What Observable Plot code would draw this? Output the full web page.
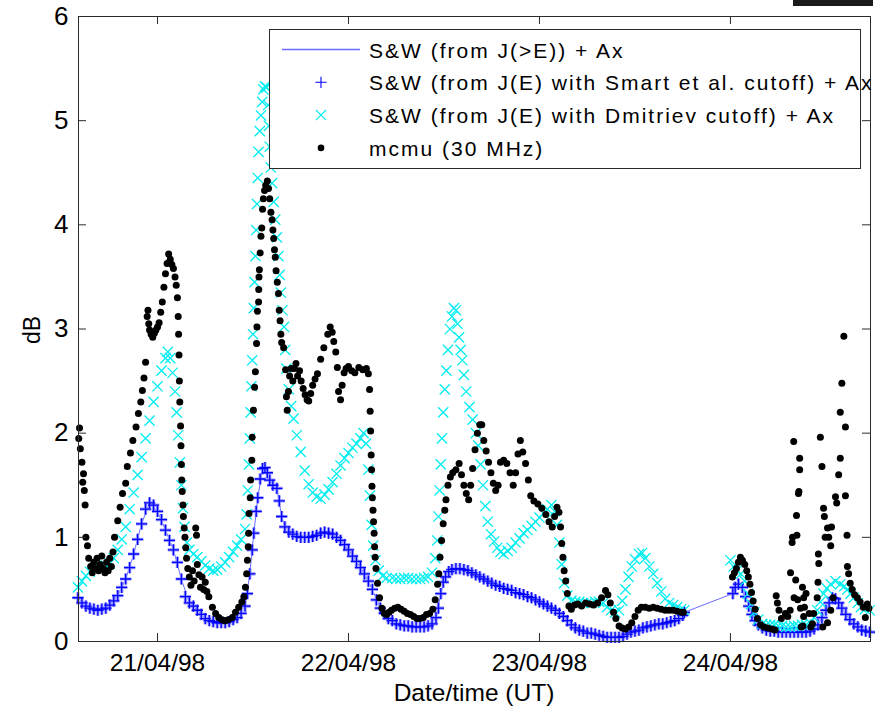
<!DOCTYPE html>
<html>
<head>
<meta charset="utf-8">
<script src="https://cdn.jsdelivr.net/npm/d3@7"></script>
<script src="https://cdn.jsdelivr.net/npm/@observablehq/plot@0.6"></script>
<style>
  html, body { margin: 0; padding: 0; background: #fff; overflow: hidden; }
  #chart { position: relative; width: 875px; height: 706px; }
  #chart svg { display: block; }
</style>
</head>
<body>
<div id="chart"></div>
<script>
// All series: [hours since 20/04/98 00:00 UT, absorption in dB]

// S&W (from J(>E)) + Ax — continuous line
const swLine = [
  [14,0.42],[15,0.34],[16,0.31],[17,0.31],[18,0.35],[19,0.44],[20,0.60],[21,0.84],[22,1.13],[23,1.33],
  [24,1.25],[25,1.07],[26,0.88],[27,0.60],[28,0.37],[29,0.30],[30,0.22],[31,0.19],[32,0.18],[33,0.19],
  [34,0.23],[35,0.34],[35.6,0.65],[36.1,1.04],[36.6,1.38],[37.2,1.66],[37.5,1.67],[38.1,1.55],[39,1.47],
  [39.6,1.20],[40,1.10],[41,1.03],[42,1.00],[43,1.00],[44,1.02],[45,1.05],[46,1.03],[47,0.97],[48,0.88],
  [49,0.77],[50,0.65],[51,0.50],[52,0.32],[53,0.22],[54,0.17],[55,0.15],[56,0.14],[57,0.14],[58,0.15],
  [59,0.23],[59.6,0.46],[60.2,0.62],[61,0.69],[62,0.70],[63,0.68],[64,0.64],[65,0.60],[66,0.56],[67,0.53],
  [68,0.50],[69,0.47],[70,0.45],[71,0.42],[72,0.38],[73,0.34],[74,0.30],[75,0.24],[76,0.16],[77,0.11],
  [78,0.08],[79,0.07],[80,0.05],[81,0.04],[82,0.04],[83,0.07],[84,0.10],[85,0.13],[86,0.15],[87,0.17],
  [88,0.18],[89,0.20],[90.2,0.28],[96.3,0.46],[97,0.55],[98,0.40],[99,0.21],[100,0.13],[101,0.10],
  [102,0.09],[104,0.09],[106,0.10],[107,0.16],[108,0.30],[108.8,0.42],[109.6,0.37],[110.5,0.26],
  [111.5,0.17],[112.5,0.11],[113.5,0.09]
];

// S&W (from J(E) with Smart et al. cutoff) + Ax
const swSmart = [
  [14.0,0.42],[14.5,0.37],[15.0,0.34],[15.5,0.32],[16.0,0.31],[16.5,0.30],[17.0,0.31],[17.5,0.32],
  [18.0,0.35],[18.5,0.39],[19.0,0.44],[19.5,0.52],[20.0,0.60],[20.5,0.71],[21.0,0.84],[21.5,0.98],
  [22.0,1.13],[22.5,1.27],[23.0,1.33],[23.5,1.31],[24.0,1.25],[24.5,1.17],[25.0,1.07],[25.5,0.97],
  [26.0,0.88],[26.5,0.76],[27.0,0.60],[27.5,0.43],[28.0,0.37],[28.5,0.34],[29.0,0.30],[29.5,0.26],
  [30.0,0.22],[30.5,0.20],[31.0,0.19],[31.5,0.18],[32.0,0.18],[32.5,0.18],[33.0,0.19],[33.5,0.21],
  [34.0,0.23],[34.5,0.27],[35.0,0.34],[35.3,0.46],[35.6,0.65],[35.9,0.88],[36.1,1.04],[36.4,1.25],
  [36.6,1.38],[36.9,1.56],[37.2,1.66],[37.5,1.67],[37.8,1.62],[38.1,1.55],[38.5,1.50],[39.0,1.47],
  [39.3,1.35],[39.6,1.20],[40.0,1.10],[40.5,1.05],[41.0,1.03],[41.5,1.01],[42.0,1.00],[42.5,1.00],
  [43.0,1.00],[43.5,1.01],[44.0,1.02],[44.5,1.04],[45.0,1.05],[45.5,1.04],[46.0,1.03],[46.5,1.00],
  [47.0,0.97],[47.5,0.93],[48.0,0.88],[48.5,0.82],[49.0,0.77],[49.5,0.71],[50.0,0.65],[50.5,0.58],
  [51.0,0.50],[51.5,0.40],[52.0,0.32],[52.5,0.27],[53.0,0.22],[53.5,0.20],[54.0,0.17],[54.5,0.16],
  [55.0,0.15],[55.5,0.15],[56.0,0.14],[56.5,0.14],[57.0,0.14],[57.5,0.14],[58.0,0.15],[58.5,0.17],
  [59.0,0.23],[59.3,0.32],[59.6,0.46],[59.9,0.57],[60.2,0.62],[60.6,0.67],[61.0,0.69],[61.5,0.70],
  [62.0,0.70],[62.5,0.69],[63.0,0.68],[63.5,0.66],[64.0,0.64],[64.5,0.62],[65.0,0.60],[65.5,0.58],
  [66.0,0.56],[66.5,0.54],[67.0,0.53],[67.5,0.51],[68.0,0.50],[68.5,0.49],[69.0,0.47],[69.5,0.46],
  [70.0,0.45],[70.5,0.43],[71.0,0.42],[71.5,0.40],[72.0,0.38],[72.5,0.36],[73.0,0.34],[73.5,0.32],
  [74.0,0.30],[74.5,0.27],[75.0,0.24],[75.5,0.20],[76.0,0.16],[76.5,0.13],[77.0,0.11],[77.5,0.10],
  [78.0,0.08],[78.5,0.08],[79.0,0.07],[79.5,0.06],[80.0,0.05],[80.5,0.04],[81.0,0.04],[81.5,0.04],
  [82.0,0.04],[82.5,0.05],[83.0,0.07],[83.5,0.09],[84.0,0.10],[84.5,0.11],[85.0,0.13],[85.5,0.14],
  [86.0,0.15],[86.5,0.16],[87.0,0.17],[87.5,0.17],[88.0,0.18],[88.5,0.19],[89.0,0.20],[89.5,0.22],
  [90.0,0.25],[90.2,0.28],
  [96.3,0.46],[96.6,0.52],[97.0,0.55],[97.5,0.52],[97.9,0.43],[98.3,0.34],[98.7,0.26],[99.1,0.20],
  [99.5,0.16],[100.0,0.13],[100.5,0.11],[101.0,0.10],[101.5,0.10],[102.0,0.09],[102.5,0.09],[103.0,0.09],
  [103.5,0.09],[104.0,0.09],[104.5,0.09],[105.0,0.09],[105.5,0.09],[106.0,0.10],[106.5,0.12],[107.0,0.16],
  [107.5,0.23],[108.0,0.30],[108.4,0.37],[108.8,0.42],[109.2,0.41],[109.6,0.37],[110.0,0.32],[110.5,0.26],
  [111.0,0.21],[111.5,0.17],[112.0,0.14],[112.5,0.11],[113.0,0.10],[113.5,0.09]
];

// S&W (from J(E) with Dmitriev cutoff) + Ax
const swDmitriev = [
  [14.0,0.52],[14.5,0.58],[15.0,0.63],[15.5,0.67],[16.0,0.70],[16.5,0.71],[17.0,0.72],[17.5,0.73],
  [18.0,0.75],[18.5,0.80],[19.0,0.88],[19.5,0.98],[20.0,1.10],[20.5,1.27],[21.0,1.43],[21.5,1.60],
  [22.0,1.77],[22.5,1.95],[23.0,2.12],[23.5,2.30],[24.0,2.45],[24.5,2.60],[25.0,2.72],[25.3,2.78],
  [25.6,2.72],[25.9,2.58],[26.2,2.40],[26.4,2.20],[26.6,1.98],[26.8,1.72],[27.0,1.50],[27.2,1.28],
  [27.4,1.10],[27.7,0.95],[28.0,0.88],[28.5,0.84],[29.0,0.81],[29.5,0.77],[30.0,0.73],[30.5,0.70],
  [31.0,0.68],[31.5,0.69],[32.0,0.72],[32.5,0.76],[33.0,0.81],[33.5,0.86],[34.0,0.92],[34.5,0.98],
  [35.0,1.08],[35.2,1.22],[35.35,1.45],[35.5,1.70],[35.6,1.95],[35.7,2.20],[35.8,2.45],[35.9,2.70],
  [36.0,2.95],[36.1,3.20],[36.2,3.45],[36.3,3.70],[36.4,3.95],[36.5,4.20],[36.6,4.45],[36.7,4.70],
  [36.85,4.90],[37.0,5.05],[37.15,5.18],[37.3,5.30],[37.5,5.33],[37.7,5.32],[37.9,5.15],[38.0,4.95],
  [38.1,4.75],[38.25,4.55],[38.4,4.40],[38.6,4.22],[38.8,4.05],[39.0,3.88],[39.2,3.70],[39.35,3.52],
  [39.5,3.35],[39.7,3.18],[39.9,3.02],[40.05,2.80],[40.2,2.62],[40.5,2.42],[40.8,2.26],[41.1,2.14],
  [41.5,1.98],[42.0,1.82],[42.5,1.64],[43.0,1.51],[43.5,1.43],[44.0,1.39],[44.5,1.37],[45.0,1.41],
  [45.5,1.46],[46.0,1.53],[46.5,1.61],[47.0,1.69],[47.5,1.76],[48.0,1.81],[48.5,1.86],[49.0,1.90],
  [49.5,1.95],[49.9,2.00],[50.2,1.90],[50.5,1.65],[50.7,1.40],[50.9,1.12],[51.1,0.92],[51.4,0.78],
  [51.8,0.68],[52.3,0.63],[52.8,0.61],[53.5,0.61],[54.0,0.60],[54.5,0.60],[55.0,0.61],[55.5,0.61],
  [56.0,0.60],[56.5,0.60],[57.0,0.60],[57.5,0.61],[58.0,0.62],[58.5,0.66],[58.9,0.80],[59.15,0.97],
  [59.3,1.20],[59.45,1.45],[59.6,1.70],[59.75,1.95],[59.9,2.20],[60.1,2.42],[60.3,2.60],[60.5,2.80],
  [60.75,3.00],[61.0,3.12],[61.25,3.20],[61.5,3.18],[61.7,3.05],[61.9,2.92],[62.1,2.80],[62.3,2.70],
  [62.5,2.56],[62.8,2.40],[63.2,2.25],[63.6,2.13],[64.0,2.00],[64.3,1.88],[64.6,1.70],[64.9,1.50],
  [65.2,1.30],[65.5,1.15],[65.9,1.03],[66.3,0.96],[66.7,0.90],[67.1,0.86],[67.5,0.84],[68.0,0.87],
  [68.5,0.90],[69.0,0.95],[69.5,0.99],[70.0,1.04],[70.5,1.07],[71.0,1.11],[71.5,1.15],[72.0,1.19],
  [72.5,1.23],[73.0,1.27],[73.5,1.31],[73.9,1.25],[74.2,1.12],[74.5,0.95],[74.8,0.74],[75.1,0.56],
  [75.5,0.44],[76.0,0.39],[76.5,0.38],[77.0,0.38],[77.5,0.37],[78.0,0.37],[78.5,0.37],[79.0,0.38],
  [79.5,0.38],[80.0,0.37],[80.5,0.33],[81.0,0.30],[81.5,0.28],[82.0,0.30],[82.4,0.39],[82.8,0.50],
  [83.2,0.62],[83.6,0.72],[84.0,0.79],[84.5,0.84],[84.9,0.85],[85.3,0.80],[85.8,0.72],[86.3,0.65],
  [86.8,0.56],[87.3,0.48],[87.8,0.41],[88.3,0.37],[88.8,0.35],[89.3,0.33],[89.8,0.31],[90.2,0.30],
  [96.0,0.78],[96.4,0.72],[96.8,0.68],[97.3,0.65],[97.8,0.58],[98.2,0.46],[98.6,0.36],[99.0,0.28],
  [99.5,0.21],[100.0,0.17],[100.5,0.16],[101.0,0.16],[101.5,0.16],[102.0,0.15],[102.5,0.15],[103.0,0.14],
  [103.5,0.14],[104.0,0.15],[104.5,0.15],[105.0,0.16],[105.5,0.16],[106.0,0.18],[106.5,0.23],[106.9,0.30],
  [107.3,0.38],[107.7,0.46],[108.1,0.51],[108.6,0.55],[109.2,0.58],[109.8,0.55],[110.3,0.53],[110.7,0.50],
  [111.1,0.46],[111.5,0.42],[112.0,0.37],[112.4,0.33],[112.9,0.31],[113.5,0.30]
];

// mcmu riometer (30 MHz)
const mcmu = [
  [14.1,1.95],[14.2,2.05],[14.3,1.85],[14.5,1.72],[14.7,1.61],[14.6,1.53],[14.8,1.45],[14.9,1.31],
  [15.0,1.00],[15.2,0.92],[15.35,0.80],[15.6,0.72],[15.8,0.66],[16.0,0.76],[16.2,0.70],[16.4,0.80],
  [16.6,0.68],[16.8,0.74],[17.0,0.82],[17.2,0.70],[17.4,0.66],[17.6,0.76],[17.8,0.68],[18.0,0.80],
  [18.2,0.72],[18.4,0.86],[18.6,1.00],[19.0,1.16],[19.3,1.29],[19.6,1.42],[20.0,1.52],[20.2,1.68],
  [20.6,1.81],[20.9,1.93],[21.3,2.06],[21.6,2.19],[21.9,2.30],[22.1,2.41],[22.3,2.53],[22.5,2.68],
  [22.7,3.12],[22.8,3.18],[22.9,3.05],[23.0,2.99],[23.2,2.95],[23.4,2.92],[23.6,2.96],[23.8,2.99],
  [24.0,3.02],[24.2,3.06],[24.4,3.16],[24.6,3.26],[24.8,3.40],[25.0,3.53],[25.2,3.63],[25.4,3.72],
  [25.6,3.67],[25.8,3.62],[26.0,3.58],[26.2,3.50],[26.35,3.42],[26.5,3.30],[26.6,3.12],[26.65,2.95],
  [26.7,2.75],[26.75,2.50],[26.8,2.30],[26.9,2.07],[26.95,1.88],[27.0,1.70],[27.05,1.55],[27.1,1.44],
  [27.2,1.31],[27.25,1.20],[27.35,1.09],[27.45,1.00],[27.55,0.90],[27.65,0.80],[27.8,0.70],[28.0,0.62],
  [28.2,0.54],[28.4,0.68],[28.6,0.58],[28.8,1.09],[28.9,1.02],[29.0,0.74],[29.2,0.64],[29.4,0.52],
  [29.6,0.62],[29.8,0.50],[30.0,0.57],[30.2,0.48],[30.45,0.43],[30.9,0.33],[31.3,0.27],[31.7,0.23],
  [32.1,0.21],[32.5,0.20],[32.9,0.21],[33.4,0.23],[33.8,0.28],[34.2,0.33],[34.6,0.38],[34.85,0.43],
  [35.05,0.52],[35.2,0.65],[35.3,0.78],[35.4,0.91],[35.45,1.04],[35.5,1.23],[35.65,1.38],[35.7,1.55],
  [35.85,1.74],[35.9,1.96],[36.05,2.22],[36.2,2.44],[36.3,2.59],[36.45,2.86],[36.5,3.02],[36.55,3.17],
  [36.7,3.26],[36.72,3.38],[36.75,3.50],[36.8,3.57],[36.9,3.73],[37.0,3.89],[37.1,3.97],[37.2,4.15],
  [37.3,4.25],[37.45,4.33],[37.6,4.38],[37.8,4.42],[37.95,4.35],[38.1,4.25],[38.25,4.12],[38.4,4.05],
  [38.5,3.95],[38.6,3.87],[38.7,3.76],[38.8,3.69],[38.9,3.56],[39.05,3.45],[39.2,3.34],[39.3,3.18],
  [39.4,3.08],[39.5,2.95],[39.6,2.87],[39.85,2.82],[40.1,2.61],[40.2,2.35],[40.3,2.22],[40.45,2.40],
  [40.6,2.55],[40.8,2.62],[41.0,2.50],[41.2,2.62],[41.4,2.67],[41.6,2.55],[41.85,2.60],[42.05,2.50],
  [42.3,2.43],[42.55,2.37],[42.8,2.32],[43.0,2.31],[43.25,2.38],[43.5,2.46],[43.8,2.52],[44.1,2.57],
  [44.5,2.71],[44.9,2.82],[45.4,2.95],[45.7,3.02],[45.95,2.97],[46.15,2.88],[46.4,2.78],[46.6,2.63],
  [46.75,2.40],[47.0,2.32],[47.2,2.46],[47.45,2.58],[47.7,2.62],[48.0,2.64],[48.4,2.60],[48.8,2.58],
  [49.3,2.63],[49.8,2.61],[50.25,2.62],[50.5,2.57],[50.65,2.42],[50.72,2.21],[50.78,2.02],[50.85,1.79],
  [50.9,1.65],[50.95,1.49],[51.0,1.38],[51.08,1.26],[51.15,1.15],[51.22,1.04],[51.28,0.91],[51.35,0.81],
  [51.45,0.70],[51.65,0.56],[51.9,0.42],[52.2,0.32],[52.5,0.27],[52.8,0.26],[53.1,0.28],[53.4,0.30],
  [53.8,0.32],[54.2,0.33],[54.6,0.31],[55.0,0.29],[55.4,0.27],[55.8,0.26],[56.2,0.24],[56.6,0.22],
  [57.0,0.22],[57.4,0.23],[57.8,0.26],[58.2,0.27],[58.6,0.31],[58.9,0.40],[59.2,0.55],[59.35,0.65],
  [59.5,0.81],[59.7,0.97],[59.9,1.13],[60.1,1.26],[60.25,1.36],[60.5,1.50],[60.8,1.58],[61.1,1.62],
  [61.5,1.65],[61.9,1.71],[62.2,1.60],[62.5,1.50],[62.8,1.42],[63.1,1.36],[63.35,1.50],[63.6,1.66],
  [63.9,1.84],[64.2,2.00],[64.5,2.08],[64.75,2.08],[65.0,1.93],[65.3,1.83],[65.6,1.72],[65.9,1.62],
  [66.2,1.52],[66.5,1.45],[66.8,1.50],[67.1,1.72],[67.5,1.74],[67.9,1.71],[68.3,1.62],[68.7,1.50],
  [69.0,1.62],[69.3,1.80],[69.6,1.93],[69.9,1.82],[70.25,1.71],[70.6,1.55],[70.9,1.40],[71.3,1.35],
  [71.8,1.32],[72.3,1.28],[72.8,1.22],[73.2,1.15],[73.6,1.10],[73.9,1.20],[74.2,1.29],[74.45,1.24],
  [74.65,1.10],[74.8,0.94],[74.95,0.81],[75.1,0.68],[75.3,0.58],[75.5,0.46],[75.7,0.34],[76.0,0.31],
  [76.4,0.35],[76.8,0.36],[77.3,0.34],[77.8,0.37],[78.3,0.36],[78.8,0.35],[79.3,0.37],[79.8,0.42],
  [80.3,0.49],[80.6,0.45],[80.9,0.37],[81.3,0.28],[81.6,0.22],[82.0,0.15],[82.4,0.13],[82.8,0.12],
  [83.2,0.14],[83.6,0.18],[84.0,0.24],[84.4,0.30],[84.8,0.33],[85.3,0.33],[85.8,0.32],[86.3,0.33],
  [86.8,0.32],[87.3,0.31],[87.8,0.30],[88.3,0.30],[88.8,0.30],[89.3,0.29],[89.8,0.28],[90.1,0.28],
  [96.25,0.62],[96.5,0.66],[96.75,0.70],[97.0,0.76],[97.25,0.81],[97.5,0.78],[97.8,0.74],[98.05,0.68],
  [98.25,0.62],[98.45,0.55],[98.65,0.47],[98.85,0.39],[99.1,0.31],[99.4,0.22],[99.8,0.16],[100.2,0.14],
  [100.7,0.13],[101.2,0.12],[101.6,0.11],[101.75,0.44],[101.9,0.37],[102.1,0.30],[102.4,0.22],[102.9,0.27],
  [103.2,0.24],[103.5,0.30],[103.55,0.66],[103.75,0.95],[103.8,1.00],[103.95,1.92],[104.0,0.42],[104.2,0.59],
  [104.3,1.21],[104.35,1.02],[104.45,0.40],[104.55,1.42],[104.6,1.44],[104.7,1.76],[104.7,1.65],[104.8,0.32],
  [104.9,0.14],[105.05,0.52],[105.2,0.42],[105.3,0.33],[105.2,0.24],[105.1,0.15],[105.5,0.46],[105.9,0.27],
  [106.1,0.14],[106.3,0.17],[106.45,0.27],[106.9,0.42],[107.0,0.57],[107.05,0.84],[107.1,0.75],[107.3,1.96],
  [107.5,1.68],[107.7,1.28],[107.8,1.20],[107.9,1.00],[108.2,1.09],[108.35,1.00],[108.6,0.92],[108.7,1.10],
  [108.9,0.42],[108.6,0.30],[108.2,0.18],[107.6,0.14],[109.2,1.39],[109.35,1.33],[109.6,1.60],[109.8,1.76],
  [109.8,2.20],[110.0,2.48],[110.25,2.93],[110.45,2.06],[110.45,1.40],[110.65,1.02],[110.7,0.72],[110.85,0.65],
  [111.05,0.56],[111.3,0.50],[111.6,0.45],[111.95,0.42],[112.3,0.38],[112.7,0.33],[112.95,0.23],[113.2,0.36],
  [113.4,0.32]
];

const tickDays = [21, 22, 23, 24];       // April 1998, labelled at 00:00 UT
const yTicks = [0, 1, 2, 3, 4, 5, 6];
const legendLabels = [
  "S&W (from J(>E)) + Ax",
  "S&W (from J(E) with Smart et al. cutoff) + Ax",
  "S&W (from J(E) with Dmitriev cutoff) + Ax",
  "mcmu (30 MHz)"
];

const BLUE_LINE = "#6b6bff", BLUE = "#0000ff", BLUE_HALO = "#9c9cff", CYAN = "#00eef0", BLACK = "#000";
const FONT = "'Liberation Sans', Arial, Helvetica, sans-serif";

const t0 = Date.UTC(1998, 3, 20);
const toDate = h => new Date(t0 + h * 3600e3);
const rows = arr => arr.map(([h, v]) => ({time: toDate(h), dB: v}));

const W = 875, H = 706;
const mL = 78, mR = 5, mT = 16, mB = 65;
const frameW = W - mL - mR, frameH = H - mT - mB;
const tick = 8;
const tickDates = tickDays.map(d => new Date(Date.UTC(1998, 3, d)));
const axisColor = "#2b2b2b";

const rPlus = 3.7, rTimes = 4.7, rDot = 3.5;
const smartRows = rows(swSmart);

const chart = Plot.plot({
  width: W,
  height: H,
  marginLeft: mL, marginRight: mR, marginTop: mT, marginBottom: mB,
  style: {fontFamily: FONT, fontSize: "24px", color: "#000", background: "#fff", overflow: "visible"},
  x: {
    type: "utc",
    domain: [toDate(14.07), toDate(113.6)],
    ticks: tickDates,
    tickFormat: d3.utcFormat("%d/%m/%y"),
    tickSize: 0,
    tickPadding: 12,
    label: null
  },
  y: {domain: [0, 6], ticks: yTicks, tickFormat: d3.format("d"), tickSize: 0, tickPadding: 10, label: null},
  marks: [
    Plot.line(rows(swLine), {x: "time", y: "dB", stroke: BLUE_LINE, strokeWidth: 1}),
    Plot.dot(smartRows, {x: "time", y: "dB", symbol: "plus", r: rPlus, stroke: BLUE_HALO, strokeWidth: 3.2}),
    Plot.dot(smartRows, {x: "time", y: "dB", symbol: "plus", r: rPlus, stroke: BLUE, strokeWidth: 1.3}),
    Plot.dot(rows(swDmitriev), {x: "time", y: "dB", symbol: "times", r: rTimes, stroke: CYAN, strokeWidth: 1.3}),
    Plot.dot(rows(mcmu), {x: "time", y: "dB", r: rDot, fill: BLACK, stroke: "none"}),
    // inward tick marks on all four sides
    Plot.tickX(tickDates, {x: d => d, insetTop: frameH - tick, stroke: axisColor}),
    Plot.tickX(tickDates, {x: d => d, insetBottom: frameH - tick, stroke: axisColor}),
    Plot.tickY(yTicks, {y: d => d, insetRight: frameW - tick, stroke: axisColor}),
    Plot.tickY(yTicks, {y: d => d, insetLeft: frameW - tick, stroke: axisColor}),
    Plot.frame({stroke: axisColor})
  ]
});

document.getElementById("chart").append(chart);
const svg = d3.select(chart);

// tick label sizes
svg.selectAll('g[aria-label^="x-axis"] text').attr("font-size", 24.5);
svg.selectAll('g[aria-label^="y-axis"] text').attr("font-size", 26);

// axis titles
svg.append("text")
  .attr("x", mL + frameW / 2).attr("y", 701)
  .attr("text-anchor", "middle")
  .attr("font-size", 24.5)
  .text("Date/time (UT)");
svg.append("text")
  .attr("transform", "translate(40,330) rotate(-90)")
  .attr("text-anchor", "middle")
  .attr("font-size", 23)
  .text("dB");

// legend
const lg = svg.append("g").attr("font-family", FONT).attr("font-size", 21).attr("text-anchor", "start");
lg.append("rect")
  .attr("x", 269.5).attr("y", 29.5).attr("width", 591).attr("height", 139)
  .attr("fill", "#fff").attr("stroke", axisColor);
const rowY = i => 49.5 + i * 32.8;
const mx = 321;
lg.append("line")
  .attr("x1", 282).attr("x2", 360).attr("y1", rowY(0)).attr("y2", rowY(0))
  .attr("stroke", BLUE_LINE).attr("stroke-width", 1.5);
lg.append("path")
  .attr("transform", `translate(${mx},${rowY(1)})`)
  .attr("d", d3.symbol(d3.symbolPlus, Math.PI * rPlus * rPlus)())
  .attr("fill", "none").attr("stroke", BLUE).attr("stroke-width", 1.1);
lg.append("path")
  .attr("transform", `translate(${mx},${rowY(2)})`)
  .attr("d", d3.symbol(d3.symbolTimes, Math.PI * rTimes * rTimes)())
  .attr("fill", "none").attr("stroke", CYAN).attr("stroke-width", 1.1);
lg.append("circle")
  .attr("cx", mx).attr("cy", rowY(3)).attr("r", 3.3).attr("fill", BLACK);
legendLabels.forEach((label, i) => {
  lg.append("text")
    .attr("x", 369).attr("y", rowY(i) + 8)
    .attr("letter-spacing", "2px")
    .attr("fill", "#000")
    .text(label);
});

// dark strip along the top right edge
svg.append("rect").attr("x", 793).attr("y", 0).attr("width", 80).attr("height", 6).attr("fill", "#1a1a1a");
</script>
</body>
</html>
